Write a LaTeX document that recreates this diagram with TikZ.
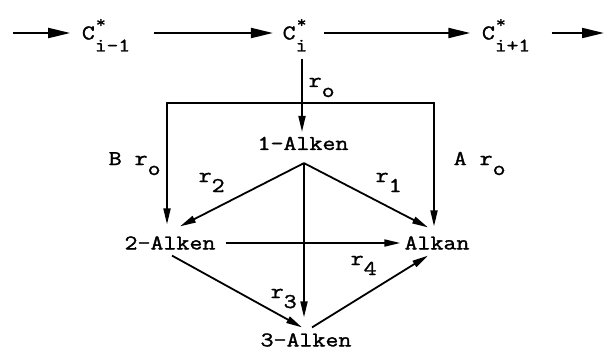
\documentclass[tikz,border=0pt]{standalone}
\usepackage{fontspec}
\setmonofont{Latin Modern Mono}[FakeStretch=1.2,FakeBold=1.5]
\usetikzlibrary{arrows.meta,calc}
\newcommand{\lo}[1]{\smash{\raisebox{-10pt}{#1}}}
\newcommand{\cst}[1]{C\smash{\rlap{\raisebox{12pt}{\makebox[12pt]{\fontsize{16}{16}\selectfont *}}}\raisebox{-12pt}{\fontsize{19}{19}\selectfont #1}}}
\begin{document}
\begin{tikzpicture}[x=1pt,y=-1pt,
  txt/.style={font=\ttfamily\fontsize{21}{24}\selectfont, inner sep=0pt, text height=12.8pt, text depth=0pt},
  lab/.style={txt, anchor=base west},
  arr/.style={line width=1.8pt, -{Triangle[length=16pt,width=7pt]}},
  tarr/.style={line width=2pt, -{Triangle[length=22pt,width=10pt]}}]
\useasboundingbox (0,0) rectangle (604,350);
% top row
\node[txt] (c1) at (106,33) {\cst{i-1}};
\node[txt] (c2) at (295,33) {\cst{i}};
\node[txt] (c3) at (506,33) {\cst{i+1}};
\coordinate (c0) at (13,33);
\coordinate (c4) at (604,33);
\draw[tarr, shorten >=11.5pt] (c0) -- (c1);
\draw[tarr, shorten <=24pt, shorten >=9.5pt] (c1) -- (c2);
\draw[tarr, shorten <=16.5pt, shorten >=11.4pt] (c2) -- (c3);
\draw[tarr, shorten <=21.4pt] (c3) -- (c4);
% species
\node[txt] (n1) at (303,143.5) {1-Alken};
\node[txt] (n2) at (170,243) {2-Alken};
\node[txt] (n3) at (437,243) {Alkan};
\node[txt] (n4) at (306,340) {3-Alken};
% connectors
\draw[arr] ($(n1.north |- c2.south)+(-1,19)$) -- ($(n1.north)+(-1,-5)$);
\coordinate (split) at ($(n1.north)+(-1,-34)$);
\draw[arr] (split) -| ($(n2.north)+(-3,-12)$);
\draw[arr] (split) -| ($(n3.north)+(-3,-10)$);
\coordinate (apex) at ($(n1.south)+(1,13)$);
\draw[arr] (apex) -- ($(n2.north)+(10,-10)$);
\draw[arr] (apex) -- ($(n3.north)+(-9,-9)$);
\draw[arr] (apex) -- ($(n4.north)+(-2,-16)$);
\draw[arr] ($(n2.east)+(10,0)$) -- ($(n3.west)+(-4,0)$);
\draw[arr] ($(n2.south)+(2,6)$) -- ($(n4.north)+(-4,-6)$);
\draw[arr] ($(n4.north)+(6,-6)$) -- ($(n3.south)+(-9,6)$);
% labels
\node[lab] (l0) at (308.5,87) {r\lo{o}};
\node[lab] (lB) at (108.5,165) {B r\lo{o}};
\node[lab] (l2) at (198.5,182) {r\lo{2}};
\node[lab] (l1) at (375.5,182) {r\lo{1}};
\node[lab] (lA) at (453.5,165) {A r\lo{o}};
\node[lab] (l3) at (270.5,298) {r\lo{3}};
\node[lab] (l4) at (350.5,265) {r\lo{4}};
\end{tikzpicture}
\end{document}
